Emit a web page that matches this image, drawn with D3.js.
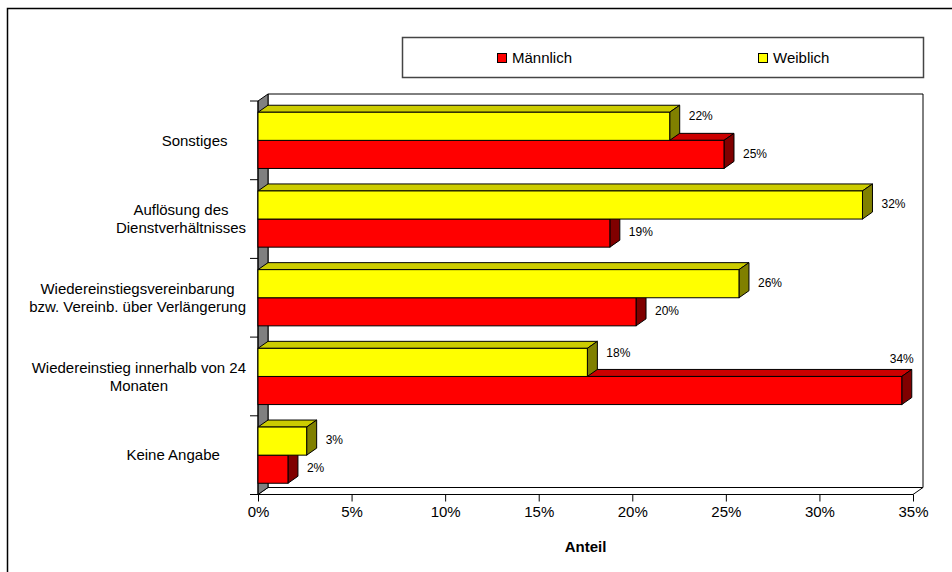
<!DOCTYPE html>
<html>
<head>
<meta charset="utf-8">
<script src="https://cdn.jsdelivr.net/npm/d3@7"></script>
<style>
  html, body { margin: 0; padding: 0; background: #fff; }
  svg { display: block; font-family: "Liberation Sans", Arial, sans-serif; }
</style>
</head>
<body>
<svg id="chart" width="952" height="572"></svg>
<script>
// Categories, top to bottom (line breaks as drawn on the axis)
const categories = [
  "Sonstiges",
  "Auflösung des\nDienstverhältnisses",
  "Wiedereinstiegsvereinbarung\nbzw. Vereinb. über Verlängerung",
  "Wiedereinstieg innerhalb von 24\nMonaten",
  "Keine Angabe"
];
const seriesNames = ["Weiblich", "Männlich"];
const legendOrder = ["Männlich", "Weiblich"];
// Share in percent per category
const weiblich = [22.0, 32.3, 25.7, 17.6, 2.6];
const maennlich = [24.9, 18.8, 20.2, 34.4, 1.6];
const xTicks = [0, 5, 10, 15, 20, 25, 30, 35];
const axisTitle = "Anteil";

const svg = d3.select("#chart");
const plot = { left: 258, right: 913, top: 101, bottom: 494.5 };
const depth = { dx: 10, dy: -7 };

const x = d3.scaleLinear().domain([0, 35]).range([plot.left, plot.right]);
const y = d3.scaleBand().domain(categories).range([plot.top, plot.bottom]);
const ySub = d3.scaleBand().domain(seriesNames).range([0, y.bandwidth()])
  .paddingInner(0).paddingOuter(0.4);

const colors = {
  "Weiblich": { front: "#ffff00", top: "#cccc00", side: "#808000" },
  "Männlich": { front: "#ff0000", top: "#cc0000", side: "#800000" }
};

// Outer frame
svg.append("rect").attr("x", 7.5).attr("y", 8.5).attr("width", 980).attr("height", 600)
  .attr("fill", "none").attr("stroke", "#000").attr("stroke-width", 1.5);

// Legend
const legend = svg.append("g");
legend.append("rect").attr("x", 402.5).attr("y", 37.5).attr("width", 521).attr("height", 40)
  .attr("fill", "#fff").attr("stroke", "#444").attr("stroke-width", 1.5);
const legendX = d3.scalePoint().domain(legendOrder).range([497, 758]);
legendOrder.forEach(name => {
  const lx = legendX(name);
  legend.append("rect").attr("x", lx + 0.5).attr("y", 53.5).attr("width", 9).attr("height", 9)
    .attr("fill", colors[name].front).attr("stroke", "#000").attr("stroke-width", 1);
  legend.append("text").attr("x", lx + 15).attr("y", 63).attr("font-size", 15)
    .attr("fill", "#000").text(name);
});

const dx = depth.dx, dy = depth.dy;
const poly = pts => "M" + pts.map(p => p.join(",")).join("L") + "Z";

// Back wall
svg.append("path")
  .attr("d", poly([[plot.left + dx, plot.top + dy], [plot.right + dx, plot.top + dy],
                   [plot.right + dx, plot.bottom + dy], [plot.left + dx, plot.bottom + dy]]))
  .attr("fill", "#fff").attr("stroke", "#000").attr("stroke-width", 1);
// Bottom floor
svg.append("path")
  .attr("d", poly([[plot.left, plot.bottom], [plot.right, plot.bottom],
                   [plot.right + dx, plot.bottom + dy], [plot.left + dx, plot.bottom + dy]]))
  .attr("fill", "#fff").attr("stroke", "#000").attr("stroke-width", 1);
// Left (category) wall
svg.append("path")
  .attr("d", poly([[plot.left, plot.top], [plot.left + dx, plot.top + dy],
                   [plot.left + dx, plot.bottom + dy], [plot.left, plot.bottom]]))
  .attr("fill", "#808080").attr("stroke", "#000").attr("stroke-width", 1);

// Axis lines and ticks
svg.append("line").attr("x1", plot.left).attr("x2", plot.left)
  .attr("y1", plot.top).attr("y2", plot.bottom).attr("stroke", "#000");
svg.append("line").attr("x1", plot.left).attr("x2", plot.right)
  .attr("y1", plot.bottom).attr("y2", plot.bottom).attr("stroke", "#000");
const yBounds = categories.map(c => y(c)).concat([plot.bottom]);
svg.selectAll(".ytick").data(yBounds).join("line")
  .attr("x1", plot.left - 8).attr("x2", plot.left)
  .attr("y1", d => d).attr("y2", d => d).attr("stroke", "#000");

const xAxis = d3.axisBottom(x).tickValues(xTicks).tickSize(7).tickPadding(5)
  .tickFormat(d => d + "%");
const gx = svg.append("g").attr("transform", `translate(0,${plot.bottom})`).call(xAxis);
gx.select(".domain").remove();
gx.selectAll("text").attr("font-size", 15).attr("fill", "#000")
  .attr("font-family", "Liberation Sans, Arial, sans-serif");
gx.selectAll("line").attr("stroke", "#000");

// Bars (drawn bottom-up so upper bars overlap the tops of lower ones)
const bars = [];
categories.forEach((c, i) => {
  bars.push({ cat: c, series: "Männlich", value: maennlich[i], idx: i });
  bars.push({ cat: c, series: "Weiblich", value: weiblich[i], idx: i });
});
const drawOrder = bars.slice().sort((a, b) => b.idx - a.idx);
const gBars = svg.append("g");
drawOrder.forEach(b => {
  const y0 = y(b.cat) + ySub(b.series);
  const y1 = y0 + ySub.bandwidth();
  const x0 = x(0), x1 = x(b.value);
  const col = colors[b.series];
  const g = gBars.append("g");
  g.append("path").attr("d", poly([[x0, y0], [x0 + dx, y0 + dy], [x1 + dx, y0 + dy], [x1, y0]]))
    .attr("fill", col.top).attr("stroke", "#000").attr("stroke-width", 1).attr("stroke-linejoin", "round");
  g.append("path").attr("d", poly([[x1, y0], [x1 + dx, y0 + dy], [x1 + dx, y1 + dy], [x1, y1]]))
    .attr("fill", col.side).attr("stroke", "#000").attr("stroke-width", 1).attr("stroke-linejoin", "round");
  g.append("rect").attr("x", x0).attr("y", y0).attr("width", x1 - x0).attr("height", y1 - y0)
    .attr("fill", col.front).attr("stroke", "#000").attr("stroke-width", 1);
});

// Value labels: beside the bar end; nudged up when the bar below reaches further,
// and set above the bar when there is no room before the right wall
bars.forEach(b => {
  const y0 = y(b.cat) + ySub(b.series);
  const yc = y0 + ySub.bandwidth() / 2;
  const xEnd = x(b.value) + dx;
  let lx = xEnd + 9, ly = yc - 1, anchor = "start";
  if (b.series === "Weiblich" && maennlich[b.idx] > b.value) ly = y0 + 4;
  if (xEnd + 32 > plot.right + dx) { lx = x(b.value); ly = y0 + dy - 11; anchor = "middle"; }
  svg.append("text").attr("x", lx).attr("y", ly).attr("dy", "0.35em")
    .attr("text-anchor", anchor).attr("font-size", 12).attr("fill", "#000")
    .text(Math.round(b.value) + "%");
});

// Category labels: wrapped blocks sit against the axis, single lines stand further in
categories.forEach(c => {
  const lines = c.split("\n");
  const cy = y(c) + y.bandwidth() / 2;
  const t = svg.append("text").attr("font-size", 15).attr("fill", "#000").attr("text-anchor", "middle");
  lines.forEach((ln, k) => {
    t.append("tspan").attr("x", 0).attr("y", cy + (k - (lines.length - 1) / 2) * 18)
      .attr("dy", "0.35em").text(ln);
  });
  const w = t.node().getBBox().width;
  const cx = lines.length > 1 ? Math.max(22 + w / 2, 246 - w / 2) : 246 - w * 0.78;
  t.selectAll("tspan").attr("x", cx);
});

// Axis title
svg.append("text").attr("x", (plot.left + plot.right) / 2).attr("y", 547).attr("dy", "0.35em")
  .attr("text-anchor", "middle").attr("font-size", 15).attr("font-weight", "bold")
  .attr("fill", "#000").text(axisTitle);
</script>
</body>
</html>
